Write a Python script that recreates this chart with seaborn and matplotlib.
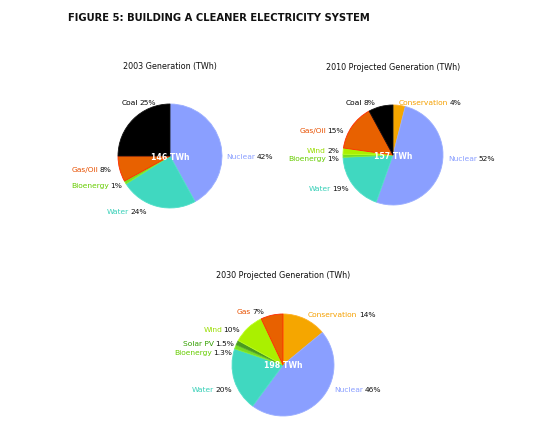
import matplotlib
matplotlib.use("Agg")
import matplotlib.pyplot as plt
import seaborn as sns
from matplotlib.offsetbox import TextArea, HPacker, AnnotationBbox

sns.set_theme(style="white")
plt.rcParams['font.family'] = ['DejaVu Sans']

# ---- data ----
cats_2003 = ["Nuclear", "Water", "Bioenergy", "Gas/Oil", "Coal"]
vals_2003 = [42, 24, 1, 8, 25]
total_2003 = "146 TWh"

cats_2010 = ["Conservation", "Nuclear", "Water", "Bioenergy", "Wind", "Gas/Oil", "Coal"]
vals_2010 = [4, 52, 19, 1, 2, 15, 8]
total_2010 = "157 TWh"

cats_2030 = ["Conservation", "Nuclear", "Water", "Bioenergy", "Solar PV", "Wind", "Gas"]
vals_2030 = [14, 46, 20, 1.3, 1.5, 10, 7]
total_2030 = "198 TWh"

titles = ["2003 Generation (TWh)", "2010 Projected Generation (TWh)", "2030 Projected Generation (TWh)"]

# ---- styles ----
fill = {"Nuclear": "#8a9fff", "Water": "#40d8c0", "Bioenergy": "#77dd22", "Gas/Oil": "#e86100",
        "Gas": "#e86100", "Coal": "#000000", "Conservation": "#f5a600", "Wind": "#aaf000",
        "Solar PV": "#4a9a20"}
edge = {"Nuclear": "#9aaeff", "Water": "#50e0c8", "Bioenergy": "#88ee33", "Gas/Oil": "#ff2a00",
        "Gas": "#ff2a00", "Coal": "#111111", "Conservation": "#ffb020", "Wind": "#bbff20",
        "Solar PV": "#5aaa30"}
text_col = {"Nuclear": "#8a9fff", "Water": "#38d0b8", "Bioenergy": "#66cc00", "Gas/Oil": "#e85000",
            "Gas": "#e85000", "Coal": "#000000", "Conservation": "#f5a000", "Wind": "#99dd00",
            "Solar PV": "#33a000"}

# label anchor positions (radius units), alignment side
label_pos_2003 = {"Nuclear": (1.08, 0.0, "L"), "Water": (-0.44, -1.06, "R"),
                  "Bioenergy": (-0.92, -0.56, "R"), "Gas/Oil": (-1.13, -0.25, "R"),
                  "Coal": (-0.27, 1.04, "R")}
label_pos_2010 = {"Conservation": (0.12, 1.06, "L"), "Nuclear": (1.1, -0.06, "L"),
                  "Water": (-0.88, -0.66, "R"), "Bioenergy": (-1.08, -0.06, "R"),
                  "Wind": (-1.08, 0.1, "R"), "Gas/Oil": (-0.98, 0.5, "R"),
                  "Coal": (-0.36, 1.06, "R")}
label_pos_2030 = {"Conservation": (0.49, 1.0, "L"), "Nuclear": (1.0, -0.47, "L"),
                  "Water": (-1.0, -0.47, "R"), "Bioenergy": (-1.0, 0.25, "R"),
                  "Solar PV": (-0.96, 0.43, "R"), "Wind": (-0.84, 0.71, "R"),
                  "Gas": (-0.37, 1.06, "R")}

W, H = 537, 439
fig = plt.figure(figsize=(W / 100, H / 100), dpi=100)
fig.patch.set_facecolor("white")

fig.text(68 / W, 1 - 18 / H, "FIGURE 5: BUILDING A CLEANER ELECTRICITY SYSTEM",
         fontsize=7.2, fontweight="bold", color="#111111", ha="left", va="center")

L = 2.3  # axis half-range in radius units


def make_ax(cx, cy, r):
    side = 2 * L * r
    ax = fig.add_axes([(cx - side / 2) / W, 1 - (cy + side / 2) / H, side / W, side / H])
    ax.axis("off")
    ax.patch.set_alpha(0)
    return ax


def fmt(v):
    return f"{v:g}%"


def draw(ax, cats, vals, total, title, pos, ty):
    ax.pie(vals, colors=[fill[c] for c in cats], startangle=90, counterclock=False,
           radius=1, wedgeprops=dict(linewidth=0.6))
    for w, c in zip(ax.patches, cats):
        w.set_edgecolor(edge[c])
    ax.set_xlim(-L, L)
    ax.set_ylim(-L, L)
    ax.set_aspect("equal")
    ax.axis("off")
    ax.text(0, 0, total, color="white", fontsize=5.6, ha="center", va="center", fontweight="bold")
    ax.text(0, ty, title, color="#111111", fontsize=5.8, ha="center", va="center")
    for c, v in zip(cats, vals):
        x, y, side = pos[c]
        box = HPacker(children=[TextArea(c, textprops=dict(color=text_col[c], fontsize=5.4)),
                                TextArea(fmt(v), textprops=dict(color="#111111", fontsize=5.4))],
                      align="center", pad=0, sep=1)
        ab = AnnotationBbox(box, (x, y), xycoords="data", frameon=False, pad=0,
                            box_alignment=(0 if side == "L" else 1, 0.5))
        ax.add_artist(ab)


ax1 = make_ax(170, 157, 52)
draw(ax1, cats_2003, vals_2003, total_2003, titles[0], label_pos_2003, (157 - 67) / 52)
ax2 = make_ax(393, 156, 50)
draw(ax2, cats_2010, vals_2010, total_2010, titles[1], label_pos_2010, (156 - 67) / 50)
ax3 = make_ax(283, 366, 51)
draw(ax3, cats_2030, vals_2030, total_2030, titles[2], label_pos_2030, (366 - 276) / 51)

fig.savefig("out.png", dpi=100, facecolor="white")
